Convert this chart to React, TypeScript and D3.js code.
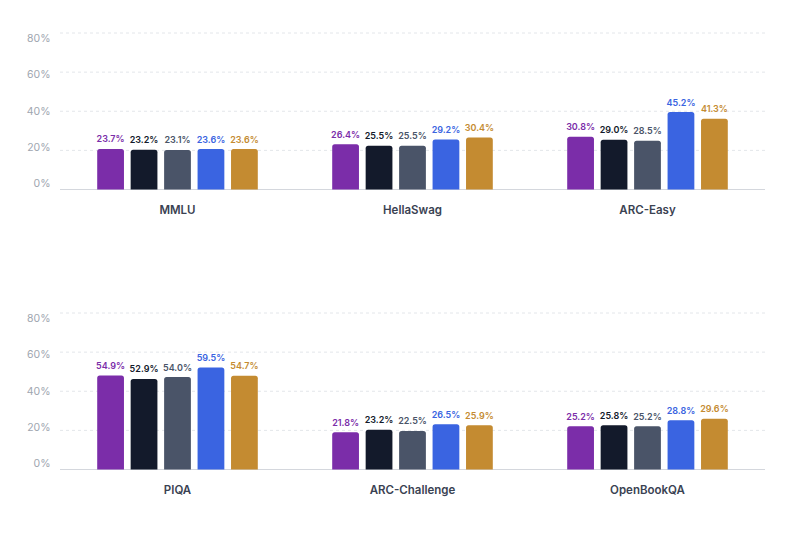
import React, { useEffect, useRef } from 'react';
import * as d3 from 'd3';

// benchmark rows (two panels of three)
const topBenchmarks = ['MMLU', 'HellaSwag', 'ARC-Easy'];
const bottomBenchmarks = ['PIQA', 'ARC-Challenge', 'OpenBookQA'];

// five models, one array each, values in benchmark order (top then bottom)
const seriesNames = ['Model A', 'Model B', 'Model C', 'Model D', 'Model E'];
const seriesColors = ['#7b2da9', '#131a2b', '#4a5468', '#3a64e1', '#c48b31'];
const modelA = [23.7, 26.4, 30.8, 54.9, 21.8, 25.2];
const modelB = [23.2, 25.5, 29.0, 52.9, 23.2, 25.8];
const modelC = [23.1, 25.5, 28.5, 54.0, 22.5, 25.2];
const modelD = [23.6, 29.2, 45.2, 59.5, 26.5, 28.8];
const modelE = [23.6, 30.4, 41.3, 54.7, 25.9, 29.6];

const tickValues = [0, 20, 40, 60, 80];

const FONT = 'Inter, "Noto Sans", sans-serif';

const App: React.FC = () => {
  const svgRef = useRef<SVGSVGElement>(null);

  useEffect(() => {
    if (!svgRef.current) return;
    const svg = d3.select(svgRef.current);
    svg.selectAll('*').remove();

    const allSeries = [modelA, modelB, modelC, modelD, modelE];
    const left = 60;
    const right = 765;
    const plotH = 156.5;

    const panels = [
      { names: topBenchmarks, offset: 0, top: 33 },
      { names: bottomBenchmarks, offset: 3, top: 313 },
    ];

    panels.forEach(panel => {
      const base = panel.top + plotH;
      const g = svg.append('g');

      // grid uses its own labelled scale, bars are drawn on a slightly wider domain
      const gridScale = d3.scaleLinear().domain([0, 80]).range([base, panel.top]);
      const labelScale = d3.scaleLinear().domain([0, 80]).range([base - 6, panel.top + 5.5]);
      const yScale = d3.scaleLinear().domain([0, 91.4]).range([base, panel.top]);

      const xScale = d3.scaleBand<string>().domain(panel.names).range([left, right]).padding(0);
      const inner = d3.scaleBand<string>().domain(seriesNames).range([-80.3, 80.3]).paddingInner(0.2).paddingOuter(0);

      // gridlines
      g.selectAll('.grid')
        .data(tickValues.filter(t => t > 0))
        .enter()
        .append('line')
        .attr('x1', left)
        .attr('x2', right)
        .attr('y1', d => gridScale(d))
        .attr('y2', d => gridScale(d))
        .attr('stroke', '#e3e6ea')
        .attr('stroke-width', 1)
        .attr('stroke-dasharray', '3,3');

      g.append('line')
        .attr('x1', left)
        .attr('x2', right)
        .attr('y1', base)
        .attr('y2', base)
        .attr('stroke', '#d4d7dd')
        .attr('stroke-width', 1);

      g.selectAll('.tick-label')
        .data(tickValues)
        .enter()
        .append('text')
        .attr('x', 50.5)
        .attr('y', d => labelScale(d))
        .attr('dy', '0.35em')
        .attr('text-anchor', 'end')
        .style('font-family', FONT)
        .style('font-size', '10.5px')
        .style('fill', '#a0a6b0')
        .text(d => `${d}%`);

      panel.names.forEach((name, i) => {
        const cx = (xScale(name) as number) + xScale.bandwidth() / 2;
        const bw = inner.bandwidth();

        allSeries.forEach((values, s) => {
          const v = values[panel.offset + i];
          const x = cx + (inner(seriesNames[s]) as number);
          const y = yScale(v);
          const r = 2.5;
          const path = d3.path();
          path.moveTo(x, base);
          path.lineTo(x, y + r);
          path.quadraticCurveTo(x, y, x + r, y);
          path.lineTo(x + bw - r, y);
          path.quadraticCurveTo(x + bw, y, x + bw, y + r);
          path.lineTo(x + bw, base);
          path.closePath();
          g.append('path').attr('d', path.toString()).attr('fill', seriesColors[s]);

          g.append('text')
            .attr('x', x + bw / 2)
            .attr('y', y - 6.5)
            .attr('text-anchor', 'middle')
            .style('font-family', FONT)
            .style('font-size', '9px')
            .style('font-weight', 600)
            .style('fill', seriesColors[s])
            .text(`${v.toFixed(1)}%`);
        });

        g.append('text')
          .attr('x', cx)
          .attr('y', base + 20)
          .attr('dy', '0.35em')
          .attr('text-anchor', 'middle')
          .style('font-family', FONT)
          .style('font-size', '11.5px')
          .style('font-weight', 600)
          .style('fill', '#3a4252')
          .text(name);
      });
    });
  }, []);

  return (
    <div style={{ position: 'absolute', left: 0, top: 0, background: '#fff' }}>
      <svg ref={svgRef} width={785} height={533} style={{ display: 'block' }}></svg>
    </div>
  );
};

export default App;
